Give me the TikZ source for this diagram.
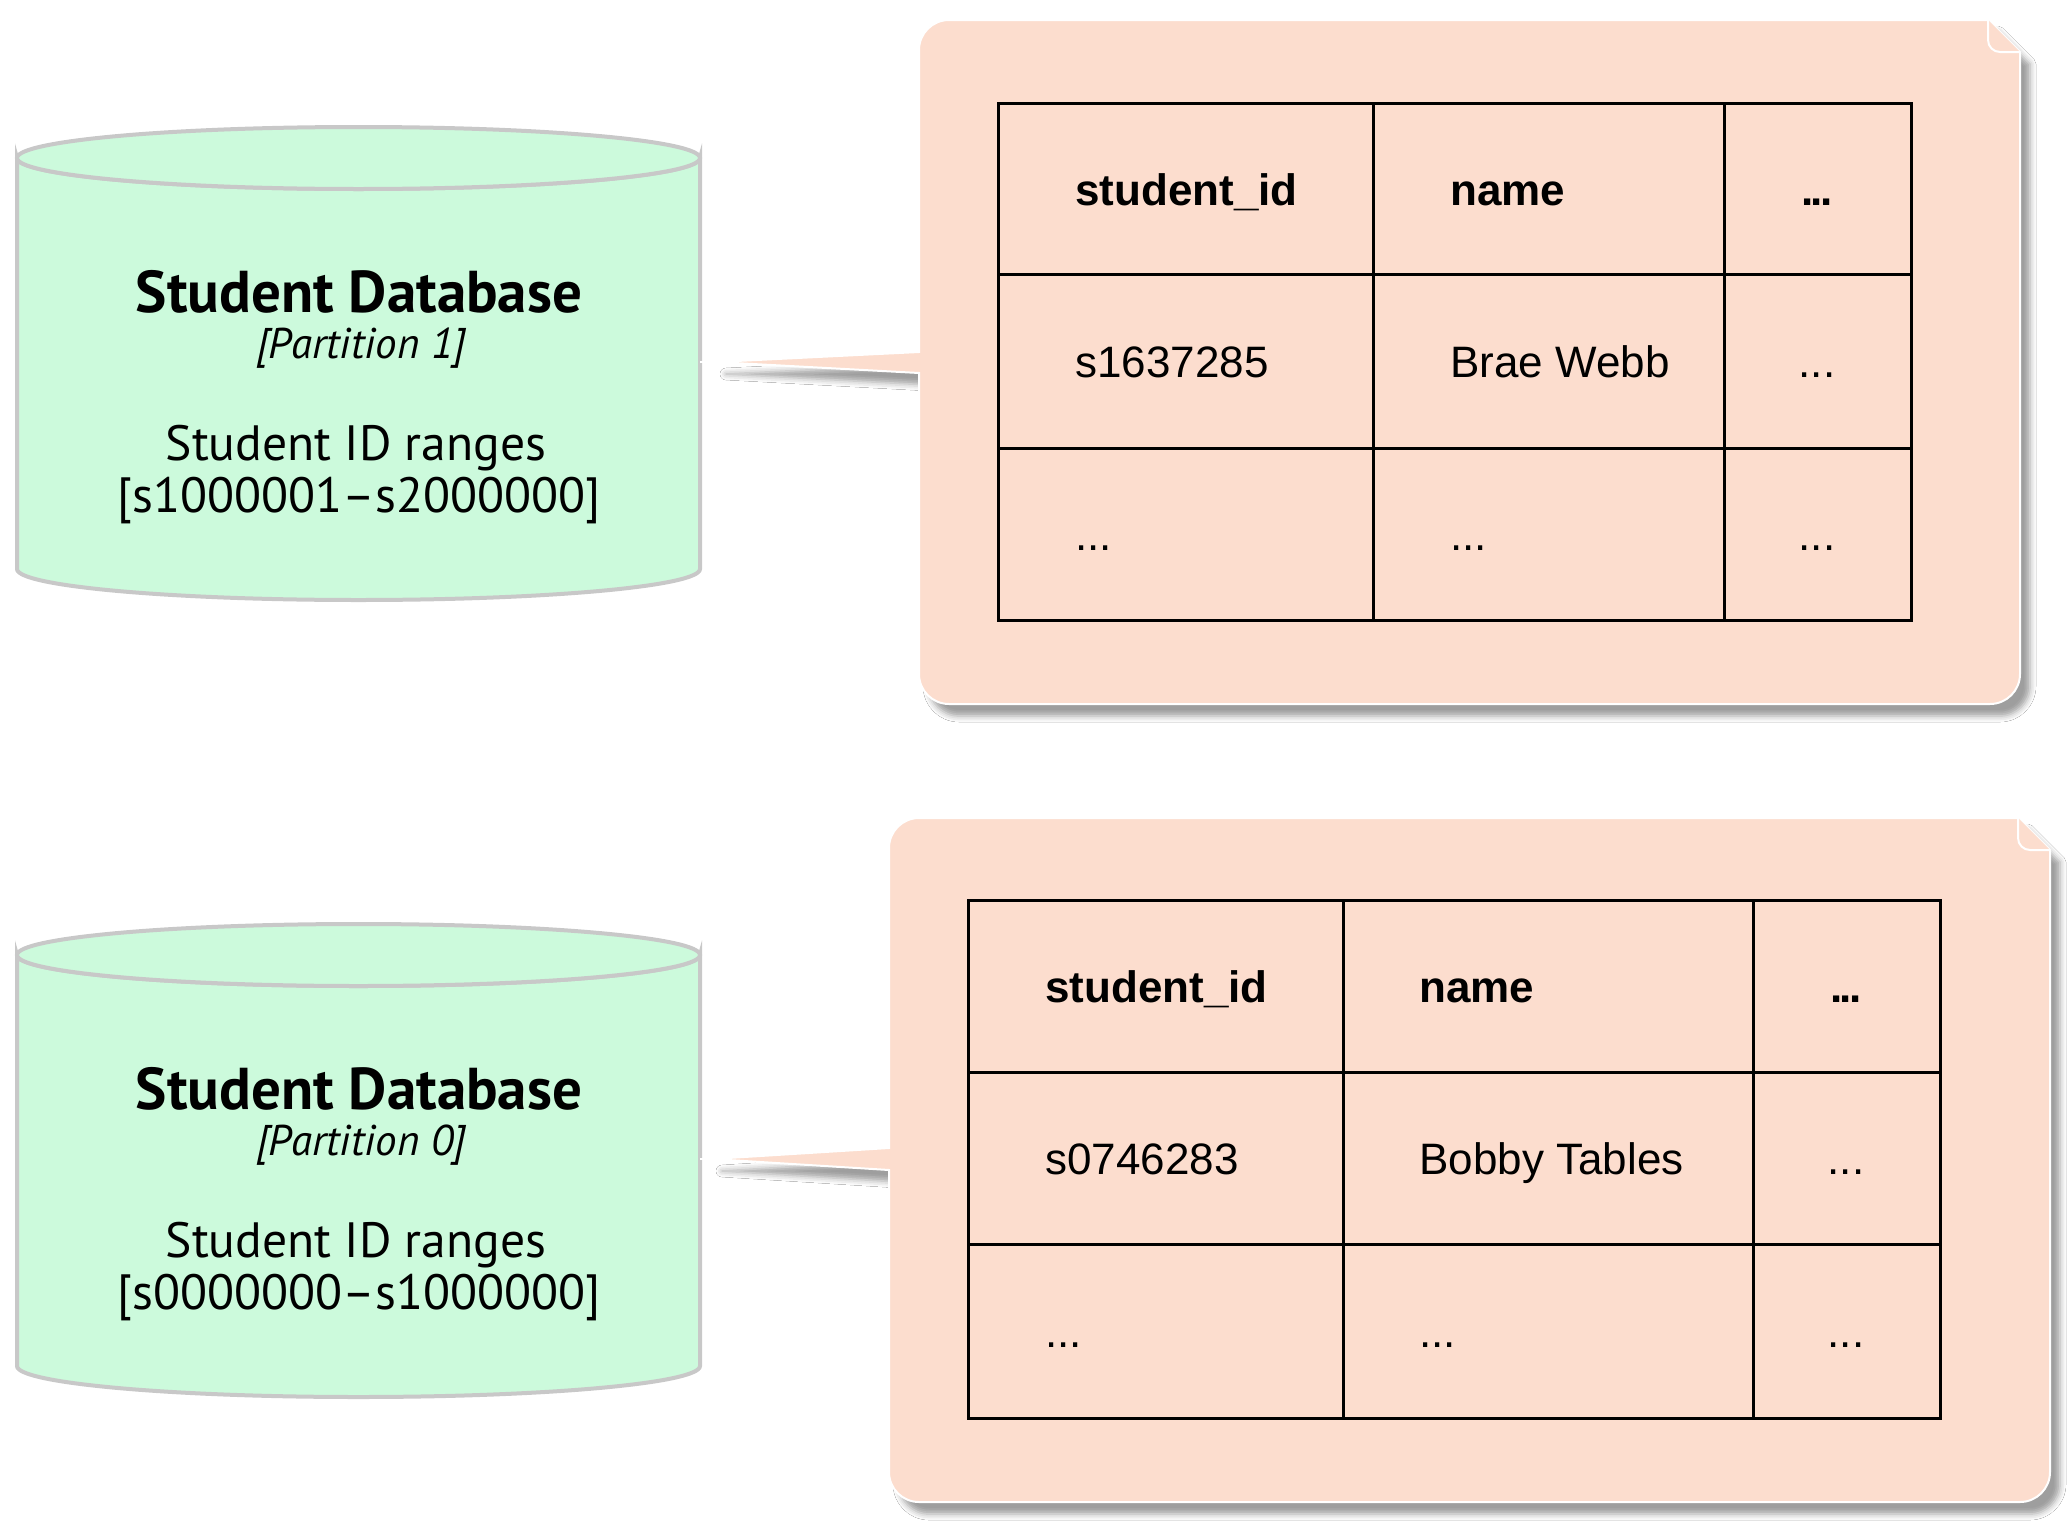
\documentclass[tikz,border=0pt]{standalone}
\usepackage{fontspec}
\setmainfont{Liberation Sans}
\newfontfamily\cylfont[Ligatures=TeX]{PT Sans}
\usetikzlibrary{shadows.blur}
\definecolor{mint}{HTML}{CCFADC}
\definecolor{peach}{HTML}{FCDDCE}
\definecolor{rim}{HTML}{C8C8C8}

% database cylinder: #1 name, #2 y of top ellipse centre, #3 y of bottom ellipse centre,
% #4 partition label, #5 id range
\newcommand\dbcylinder[5]{%
  \path[dbbody] (17,#2) -- (17,#3)
    arc[start angle=180,end angle=0,x radius=341.5,y radius=31]
    -- (700,#2)
    arc[start angle=0,end angle=180,x radius=341.5,y radius=31] -- cycle;
  \draw[dbbody] (358.5,#2) ellipse[x radius=341.5,y radius=31];
  \coordinate (#1-east) at (700,#2+204);
  \node[dbtitle]  (#1-title) at (359,#2+154) {Student Database};
  \node[dbpart]   (#1-part)  at (361,#2+200) {[Partition #4]};
  \node[dbtext]   (#1-lbl)   at (356,#2+302) {Student ID ranges};
  \node[dbtext]   (#1-range) at (359,#2+354) {[#5]};
}

\begin{document}
\begin{tikzpicture}[x=0.5pt,y=-0.5pt,
  dbbody/.style={fill=mint,draw=rim,line width=2pt},
  notebody/.style={fill=peach,draw=white,line width=1pt,
    blur shadow={shadow xshift=5pt,shadow yshift=-6pt,shadow blur radius=3pt,shadow opacity=38}},
  foldline/.style={draw=white,line width=1pt},
  grid/.style={draw=black,line width=1.5pt},
  dbtitle/.style={font=\cylfont\bfseries\fontsize{29.5}{34}\selectfont,anchor=base,inner sep=0pt},
  dbpart/.style={font=\cylfont\itshape\fontsize{21.5}{25}\selectfont,anchor=base,inner sep=0pt},
  dbtext/.style={font=\cylfont\fontsize{24.8}{29}\selectfont,anchor=base,inner sep=0pt},
  cell/.style={font=\fontsize{22}{26}\selectfont,anchor=base west,inner sep=0pt},
  head/.style={cell,font=\bfseries\fontsize{22}{26}\selectfont},
  cellc/.style={cell,anchor=base},
  headc/.style={head,anchor=base},
  link/.style={draw=white,line width=1pt}
]
\useasboundingbox (0,0) rectangle (2068,1521);
\fill[white] (0,0) rectangle (2068,1521);

% ---------- partition 1 ----------
\dbcylinder{db1}{158}{569}{1}{s1000001--s2000000}

\path[notebody] (919,352) -- (919,50) arc[start angle=180,end angle=270,radius=30]
  -- (1988,20) -- (2020,52) -- (2020,674) arc[start angle=0,end angle=90,radius=30]
  -- (949,704) arc[start angle=90,end angle=180,radius=30]
  -- (919,373) -- (716,362) coordinate (tip1) -- cycle;
\path[fill=peach] (1988,20) -- (1988,40) arc[start angle=180,end angle=90,radius=12] -- (2020,52) -- cycle;
\draw[foldline] (1988,20) -- (1988,40) arc[start angle=180,end angle=90,radius=12] -- (2020,52);
\draw[link] (tip1) -- (db1-east |- tip1);

\draw[grid] (998,103) rectangle (1911,620);
\draw[grid] (1373,103) -- (1373,620) (1724,103) -- (1724,620)
            (998,274) -- (1911,274) (998,448) -- (1911,448);
\node[head]  (t1h1) at (1075,205) {student\_id};
\node[head]  (t1h2) at (1450,205) {name};
\node[headc] (t1h3) at (1817,205) {.\kern-1.5pt.\kern-1.5pt.};
\node[cell]  (t1a1) at (1075,377) {s1637285};
\node[cell]  (t1a2) at (1450,377) {Brae Webb};
\node[cellc] (t1a3) at (1817,377) {...};
\node[cell]  (t1b1) at (1075,550) {...};
\node[cell]  (t1b2) at (1450,550) {...};
\node[cellc] (t1b3) at (1817,550) {...};

% ---------- partition 0 ----------
\dbcylinder{db0}{955}{1366}{0}{s0000000--s1000000}

\path[notebody] (889,1148) -- (889,848) arc[start angle=180,end angle=270,radius=30]
  -- (2018,818) -- (2050,850) -- (2050,1472) arc[start angle=0,end angle=90,radius=30]
  -- (919,1502) arc[start angle=90,end angle=180,radius=30]
  -- (889,1170) -- (712,1159) coordinate (tip0) -- cycle;
\path[fill=peach] (2018,818) -- (2018,838) arc[start angle=180,end angle=90,radius=12] -- (2050,850) -- cycle;
\draw[foldline] (2018,818) -- (2018,838) arc[start angle=180,end angle=90,radius=12] -- (2050,850);
\draw[link] (tip0) -- (db0-east |- tip0);

\draw[grid] (968,900) rectangle (1940,1418);
\draw[grid] (1343,900) -- (1343,1418) (1753,900) -- (1753,1418)
            (968,1072) -- (1940,1072) (968,1244) -- (1940,1244);
\node[head]  (t0h1) at (1045,1002) {student\_id};
\node[head]  (t0h2) at (1419,1002) {name};
\node[headc] (t0h3) at (1846,1002) {.\kern-1.5pt.\kern-1.5pt.};
\node[cell]  (t0a1) at (1045,1174) {s0746283};
\node[cell]  (t0a2) at (1419,1174) {Bobby Tables};
\node[cellc] (t0a3) at (1846,1174) {...};
\node[cell]  (t0b1) at (1045,1347) {...};
\node[cell]  (t0b2) at (1419,1347) {...};
\node[cellc] (t0b3) at (1846,1347) {...};
\end{tikzpicture}
\end{document}
